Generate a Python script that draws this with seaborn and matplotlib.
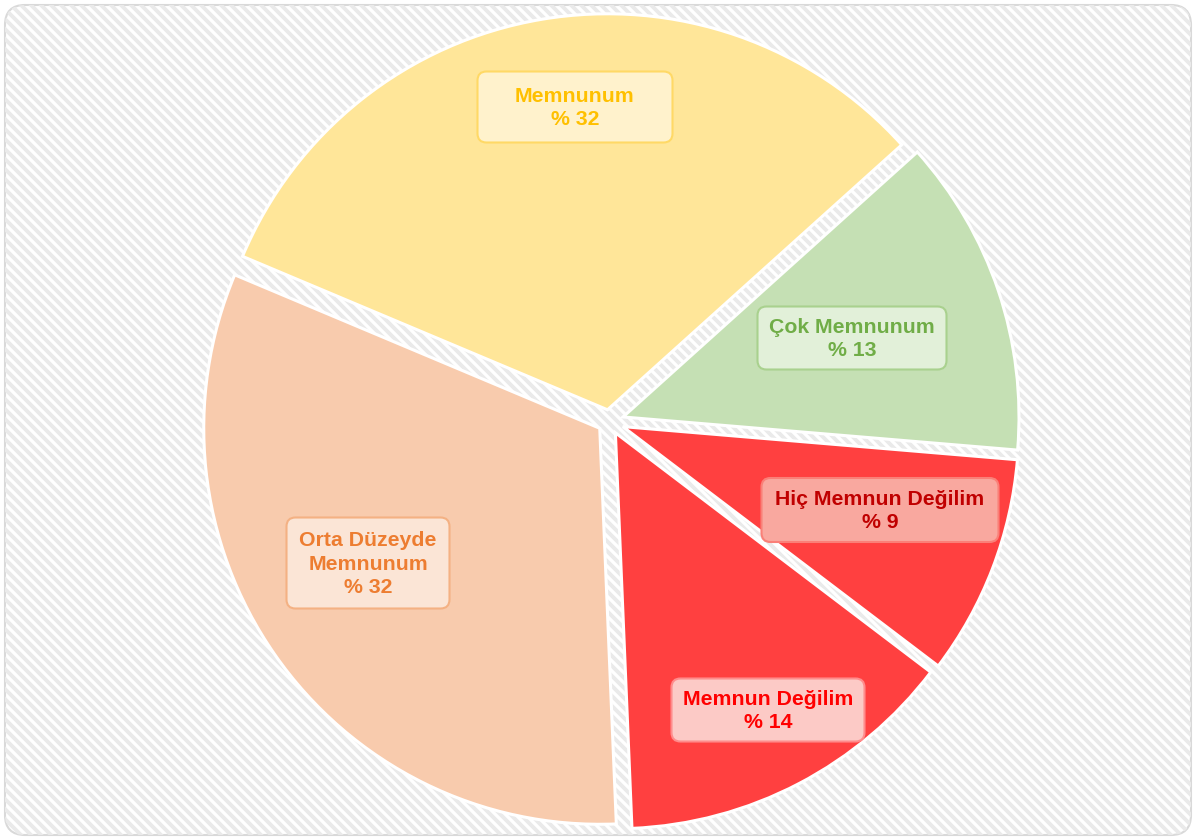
import numpy as np
import matplotlib
matplotlib.use('Agg')
import matplotlib.pyplot as plt
from matplotlib.patches import FancyBboxPatch
from matplotlib.collections import LineCollection
import seaborn as sns

# survey answers (clockwise from upper right)
categories = ['Çok Memnunum', 'Hiç Memnun Değilim', 'Memnun Değilim',
              'Orta Düzeyde\nMemnunum', 'Memnunum']
shares = [13, 9, 14, 32, 32]

slice_colors = ['#C5E0B4', '#FF4040', '#FF4040', '#F8CBAD', '#FFE699']
text_colors = ['#70AD47', '#C00000', '#FF0000', '#ED7D31', '#FFC000']
box_fill = ['#E2F0D9', '#F9A89F', '#FCCAC6', '#FBE5D6', '#FFF2CC']
box_edge = ['#A9D18E', '#FA8078', '#FF8C8C', '#F4B183', '#FFD966']
explode = [0.036, 0.036, 0.032, 0.03, 0.03]

# label box centres and sizes in pixels
label_pos = [(852, 338), (880, 510), (768, 710), (368, 563), (575, 107)]
box_size = [(189, 63), (237, 64), (193, 63), (163, 91), (195, 71)]

sns.set_theme(style='white')
plt.rcParams['font.family'] = ['Liberation Sans', 'DejaVu Sans']

W, H = 1196, 840
fig = plt.figure(figsize=(W / 100, H / 100), dpi=100)

# background: rounded frame with diagonal stripes
bg = fig.add_axes([0, 0, 1, 1])
bg.set_xlim(0, W)
bg.set_ylim(H, 0)
bg.axis('off')
frame = FancyBboxPatch((5, 5), W - 10, H - 10,
                       boxstyle='round,pad=0,rounding_size=20',
                       fc='white', ec='none')
bg.add_patch(frame)
segs = [[(0, c), (W, c + W)] for c in np.arange(-W, H + 10, 10)]
stripes = LineCollection(segs, colors='#EAEAEA', linewidths=2.8)
bg.add_collection(stripes)
stripes.set_clip_path(frame)
bg.add_patch(FancyBboxPatch((5, 5), W - 10, H - 10,
                            boxstyle='round,pad=0,rounding_size=20',
                            fc='none', ec='#D9D9D9', lw=1.5))

# the pie itself
cx, cy, R = 609.5, 421.5, 396.0
ax = fig.add_axes([0, 0, 1, 1])
ax.pie(shares, colors=slice_colors, startangle=42, counterclock=False,
       explode=explode, radius=1,
       wedgeprops=dict(edgecolor='white', linewidth=2.2))
ax.set_xlim(-cx / R, (W - cx) / R)
ax.set_ylim(-(H - cy) / R, cy / R)
ax.axis('off')

# labels with rounded boxes
top = fig.add_axes([0, 0, 1, 1])
top.set_xlim(0, W)
top.set_ylim(H, 0)
top.axis('off')
top.patch.set_visible(False)
for i, cat in enumerate(categories):
    x, y = label_pos[i]
    bw, bh = box_size[i]
    top.add_patch(FancyBboxPatch((x - bw / 2, y - bh / 2), bw, bh,
                                 boxstyle='round,pad=0,rounding_size=9',
                                 fc=box_fill[i], ec=box_edge[i], lw=1.5))
    top.text(x, y + 1, f'{cat}\n% {shares[i]}', ha='center', va='center',
             fontsize=15.3, fontweight='bold', color=text_colors[i],
             linespacing=1.3)

fig.savefig('out.png', dpi=100)
